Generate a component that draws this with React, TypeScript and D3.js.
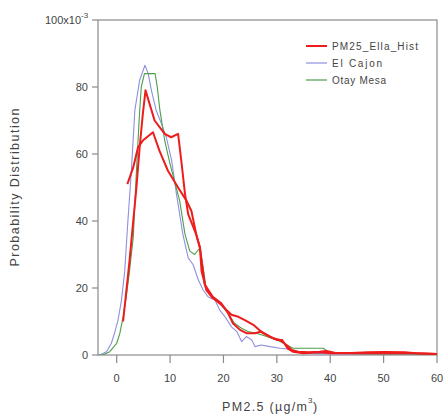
import React from "react";
import * as d3 from "d3";

const W = 443;
const H = 419;

// El Cajon (blue)
const cajonX = [-3.5, -3.2, -1.9, -1.0, -0.4, 0.25, 0.9, 1.5, 2.1, 2.75, 3.4, 4.3, 5.3, 5.9, 6.5, 7.4, 8.4, 9.3, 10.3, 11.2, 12.4, 13.4, 14.3, 15.3, 16.2, 17.1, 18.4, 19.3, 20.3, 21.5, 22.5, 23.4, 24.3, 25.3, 25.9, 27.1, 28.7, 30.6, 32, 33.5, 35, 38, 42, 46, 50, 55, 60];
const cajonY = [0, 0, 1, 3.5, 6.5, 10.4, 16.4, 25, 40, 55, 73, 82, 86.5, 84, 79, 73, 69, 65, 58, 48, 36, 29, 27, 22.4, 19.4, 17.4, 16.4, 13.4, 11.4, 8.4, 7, 4, 5.5, 4.5, 2.5, 3, 2.5, 2, 1.8, 1, 0.5, 0.4, 0.3, 0.3, 0.3, 0.3, 0.2];

// Otay Mesa (green)
const otayX = [-3.5, -2.6, -1.3, 0, 0.6, 1.2, 1.8, 2.4, 3.1, 3.7, 4.2, 4.6, 5.2, 7.2, 7.6, 8.1, 9, 10, 11.8, 12.8, 13.7, 14.6, 15.6, 16.2, 16.8, 17.8, 19.3, 20.9, 22.1, 23.4, 24.6, 26.2, 28.1, 30, 30.6, 32.5, 33, 38.7, 40, 45, 50, 55, 60];
const otayY = [0, 0, 1, 3.5, 6.5, 11.4, 17.4, 25, 35, 55, 70, 80, 84, 84, 80, 73, 64, 57, 46, 36, 31, 30, 32, 26, 19.4, 17.4, 15.4, 12.4, 9.4, 8, 7, 6.5, 5.5, 4.5, 4, 2.5, 2, 2, 0.5, 0.4, 0.3, 0.3, 0.2];

// PM25_Ella_Hist (red, two traces)
const ellaAX = [1.2, 2.4, 3.1, 3.7, 4.3, 4.9, 5.4, 7.1, 9.0, 10.2, 11.5, 12.1, 12.8, 13.4, 14.9, 15.6, 15.9, 16.8, 18, 19.6, 20.6, 21.5, 22.8, 24, 25.6, 27.4, 29.3, 30.6, 31.8, 32.8, 34, 36, 38, 39.3, 41, 44, 47, 50, 54, 56, 60];
const ellaAY = [10, 28, 40, 50, 62, 72, 79, 70, 66, 65, 66, 58, 48, 42, 36, 32, 25, 19.4, 17, 15, 13.4, 12, 11.4, 10.4, 9, 6.5, 5, 4.5, 3, 1.5, 1, 0.8, 1, 1.2, 0.6, 0.6, 0.8, 0.9, 0.8, 0.5, 0.3];
const ellaBX = [2.0, 3.1, 4.0, 4.9, 6.8, 8.0, 9.6, 11.5, 13.1, 14, 14.9, 15.6, 16.5, 18, 19.6, 20.9, 21.8, 23.1, 24.3, 25.9, 27.1, 28.7, 30, 31, 32, 33, 35, 38, 40, 45, 50, 55, 60];
const ellaBY = [51, 56, 62, 64, 66.5, 61, 55, 50, 46, 43, 36, 32, 21, 17.4, 15.4, 12.4, 9.4, 7.5, 6.5, 6.5, 7, 5.5, 4.5, 4.5, 2, 1, 0.5, 0.8, 0.5, 0.6, 0.5, 0.6, 0.3];

const xTicks = [0, 10, 20, 30, 40, 50, 60];
const yTicks = [0, 20, 40, 60, 80, 100];

const legendNames = ["PM25_Ella_Hist", "El Cajon", "Otay Mesa"];
const legendColors = ["#ee1c1c", "#8f8fe0", "#4c9e4c"];
const legendLengths = [86, 50, 54];

const FONT = "Liberation Sans, Arial, sans-serif";
const AXIS = "#8a8a8a";
const TEXT = "#444";

export default function App() {
  const x = d3.scaleLinear().domain([-3.5, 60]).range([98, 437]);
  const y = d3.scaleLinear().domain([0, 100]).range([355, 20]);
  const line = d3
    .line<[number, number]>()
    .x((d) => x(d[0]))
    .y((d) => y(d[1]));
  const zip = (a: number[], b: number[]) => a.map((v, i) => [v, b[i]] as [number, number]);

  const series = [
    { pts: zip(cajonX, cajonY), color: legendColors[1], w: 1.1 },
    { pts: zip(otayX, otayY), color: legendColors[2], w: 1.1 },
    { pts: zip(ellaBX, ellaBY), color: legendColors[0], w: 2 },
    { pts: zip(ellaAX, ellaAY), color: legendColors[0], w: 2 },
  ];

  return (
    <svg
      width={W}
      height={H}
      style={{ position: "absolute", left: 0, top: 0, background: "#fff" }}
      fontFamily={FONT}
    >
      <rect x={98} y={20} width={339} height={335} fill="none" stroke={AXIS} strokeWidth={1.2} />
      {yTicks.map((t) => (
        <g key={"y" + t}>
          <line x1={92} x2={98} y1={y(t)} y2={y(t)} stroke={AXIS} strokeWidth={1.2} />
          {t === 100 ? (
            <text x={81} y={y(t) + 4} fontSize={11} fill={TEXT} textAnchor="end">
              100x10
            </text>
          ) : (
            <text x={88} y={y(t) + 4} fontSize={11} fill={TEXT} textAnchor="end">
              {t}
            </text>
          )}
        </g>
      ))}
      <text x={81} y={y(100) - 2} fontSize={8} fill={TEXT}>
        -3
      </text>
      {xTicks.map((t) => (
        <g key={"x" + t}>
          <line x1={x(t)} x2={x(t)} y1={355} y2={363} stroke={AXIS} strokeWidth={1.2} />
          <text x={x(t)} y={382} fontSize={11} fill={TEXT} textAnchor="middle">
            {t}
          </text>
        </g>
      ))}
      <text x={222} y={411} fontSize={12.5} fill={TEXT} textLength={85} lengthAdjust="spacing">
        PM2.5 (µg/m
      </text>
      <text x={308} y={403} fontSize={8} fill={TEXT}>
        3
      </text>
      <text x={313} y={411} fontSize={12.5} fill={TEXT}>
        )
      </text>
      <text
        transform={`translate(19,${(20 + 355) / 2}) rotate(-90)`}
        fontSize={12.5}
        fill={TEXT}
        textAnchor="middle"
        textLength={158}
        lengthAdjust="spacing"
      >
        Probability Distribution
      </text>
      <g clipPath="url(#plotclip)">
        {series.map((s, i) => (
          <path key={i} d={line(s.pts) || ""} fill="none" stroke={s.color} strokeWidth={s.w} strokeLinejoin="round" />
        ))}
      </g>
      <defs>
        <clipPath id="plotclip">
          <rect x={98} y={20} width={339} height={335} />
        </clipPath>
      </defs>
      {legendNames.map((n, i) => (
        <g key={n}>
          <line
            x1={306}
            x2={327}
            y1={46 + i * 17}
            y2={46 + i * 17}
            stroke={legendColors[i]}
            strokeWidth={i === 0 ? 2 : 1.2}
          />
          <text
            x={332}
            y={49.5 + i * 17}
            fontSize={10}
            fill={TEXT}
            textLength={legendLengths[i]}
            lengthAdjust="spacing"
          >
            {n}
          </text>
        </g>
      ))}
    </svg>
  );
}
